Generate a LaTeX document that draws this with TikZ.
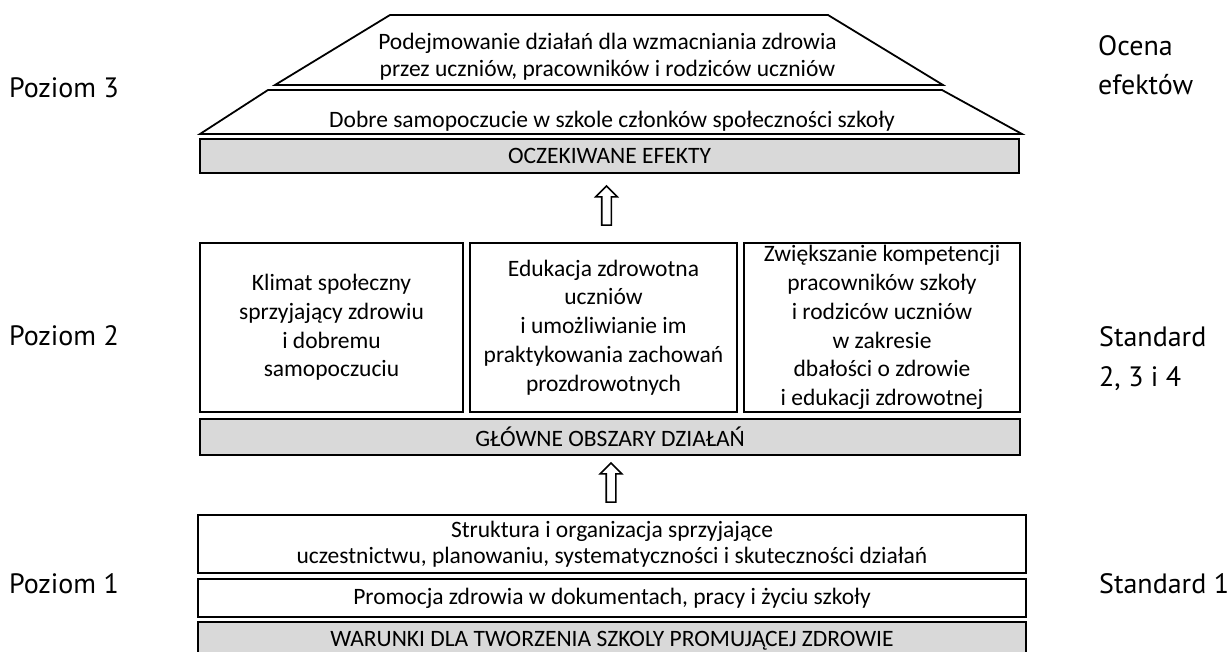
\documentclass[tikz,border=0pt]{standalone}
\usepackage{fontspec}
\setmainfont{Carlito}
\newfontfamily\sidefont{PT Sans}
\usepackage{xcolor}
\usetikzlibrary{shapes.arrows,calc}
\definecolor{boxgray}{HTML}{D9D9D9}

\begin{document}
\begin{tikzpicture}[x=1pt,y=-1pt,
	box/.style={draw,line width=2.4pt,fill=white,inner sep=0pt,align=center,
		font=\fontsize{23.5}{28.8}\selectfont},
	graybox/.style={box,fill=boxgray},
	roof/.style={draw,line width=1.8pt,line join=miter},
	side/.style={anchor=base west,align=left,inner sep=0pt,
		font=\sidefont\fontsize{28}{39.5}\selectfont},
	uparrow/.style={single arrow,draw,line width=1.6pt,rotate=90,
		minimum height=39pt,inner sep=4pt,single arrow head extend=6pt}]
	\clip (0,0) rectangle (1231,652);
	%
	%  POZIOM 3
	%
	\draw[roof] (390,15) -- (828,15) -- (943,85) -- (275,85) -- cycle;
	\draw[roof] (268,90) -- (942,90) -- (1022,134) -- (200,134) -- cycle;
	\node[align=center,inner sep=0pt,font=\fontsize{23.5}{27}\selectfont] (dzialania) at (607.5,57)
		{Podejmowanie działań dla wzmacniania zdrowia\\przez uczniów, pracowników i rodziców uczniów};
	\node[anchor=base,inner sep=0pt,font=\fontsize{23.5}{27}\selectfont] (samopoczucie) at (612,128)
		{Dobre samopoczucie w szkole członków społeczności szkoły};
	\node[graybox,minimum width=819pt,minimum height=34pt] (efekty) at (609.5,156) {OCZEKIWANE EFEKTY};
	%
	%  POZIOM 2
	%
	\node[box,minimum width=263pt,minimum height=169pt] (klimat) at (331.5,327.5)
		{Klimat społeczny\\sprzyjający zdrowiu\\i dobremu\\samopoczuciu};
	\node[box,minimum width=267pt,minimum height=169pt] (edukacja) at (603.5,327.5)
		{Edukacja zdrowotna\\uczniów\\i umożliwianie im\\praktykowania zachowań\\prozdrowotnych};
	\node[box,minimum width=276pt,minimum height=169pt] (kompetencje) at (882,327.5)
		{Zwiększanie kompetencji\\pracowników szkoły\\i rodziców uczniów\\w zakresie\\dbałości o zdrowie\\i edukacji zdrowotnej};
	\node[graybox,minimum width=820pt,minimum height=36pt] (obszary) at (610,437) {GŁÓWNE OBSZARY DZIAŁAŃ};
	%
	%  POZIOM 1
	%
	\node[box,minimum width=828pt,minimum height=58pt,font=\fontsize{23.5}{25.5}\selectfont] (struktura) at (612,544)
		{Struktura i organizacja sprzyjające\\uczestnictwu, planowaniu, systematyczności i skuteczności działań};
	\node[box,minimum width=828pt,minimum height=38pt] (promocja) at (612,598)
		{Promocja zdrowia w dokumentach, pracy i życiu szkoły};
	\node[graybox,minimum width=828pt,minimum height=38pt] (warunki) at (612,641)
		{WARUNKI DLA TWORZENIA SZKOLY PROMUJĄCEJ ZDROWIE};
	%
	%  STRZALKI
	%
	\node[uparrow] (up2) at ($(efekty.south)!0.5!(edukacja.north)$) {};
	\node[uparrow] (up1) at ($(obszary.south)!0.5!(struktura.north)$) {};
	%
	%  OPISY
	%
	\node[side] (poziom3) at (9,98) {Poziom 3};
	\node[side] (poziom2) at (9,345) {Poziom 2};
	\node[side] (poziom1) at (9,593) {Poziom 1};
	\node[side] (ocena) at (1098,95) {Ocena\\efektów};
	\node[side] (standard2) at (1099,386) {Standard\\2, 3 i 4};
	\node[side] (standard1) at (1099,593) {Standard 1};
\end{tikzpicture}
\end{document}
